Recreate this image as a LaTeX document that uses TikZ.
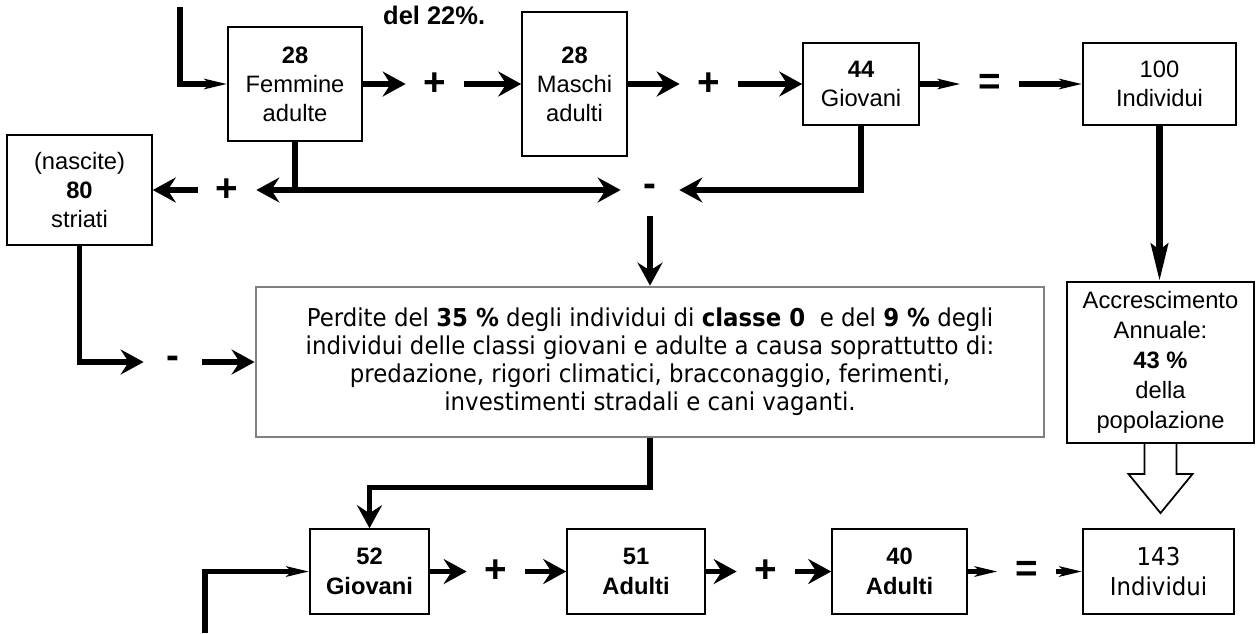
\documentclass[tikz,border=0pt]{standalone}
\usepackage{fontspec}
\setmainfont{Liberation Sans}
\newfontfamily\tahoma[FakeStretch=0.93]{DejaVu Sans}
\usetikzlibrary{arrows.meta}

\begin{document}
\begin{tikzpicture}[x=0.02cm,y=-0.02cm,
  box/.style 2 args={draw,line width=0.9pt,align=center,inner sep=0pt,
    minimum width=#1*\px,minimum height=#2*\px,
    font=\fontsize{13.5}{16.5}\selectfont},
  sym/.style={minimum width=58*\px,minimum height=52*\px,inner sep=0pt,
    font=\fontsize{22}{22}\selectfont\bfseries},
  link/.style={line width=3pt},
  fat/.style={link,-{Stealth[length=0.46cm,width=0.5cm,inset=0.16cm]}},
  slim/.style={link,-{Stealth[length=0.45cm,width=0.2cm,inset=0.1cm]}}]

%Define sizes
\def\px{0.02cm}          %one pixel of the reference.
\useasboundingbox (0,0) rectangle (1260,633);

% Current year
\node[box={134}{114}] (fem) at (295,84) {{\bfseries 28}\\Femmine\\adulte};
\node[box={105}{144}] (masc) at (574.5,84) {{\bfseries 28}\\Maschi\\adulti};
\node[box={116}{82}] (giov) at (861,84) {{\bfseries 44}\\Giovani};
\node[box={153}{82}] (tot) at (1159.5,84) {100\\Individui};
\node[anchor=west,font=\fontsize{14.5}{17}\selectfont\bfseries] (note) at (377,15) {del 22\%.};

\node[sym] (plus1) at (435,84) {+};
\node[sym] (plus2) at (709,84) {+};
\node[sym] (eq1) at (990,84) {=};

% Births and losses
\node[box={145}{110}] (nasc) at (79.5,190) {(nascite)\\{\bfseries 80}\\striati};
\node[sym] (plusB) at (227,190) {+};
\node[sym] (minusA) at (650,190) {-};
\node[sym] (minusB) at (173,362) {-};
\node[box={788}{150},draw=gray,line width=1.6pt,font=\tahoma\fontsize{14}{16}\selectfont] (perd) at (650,362)
  {Perdite del \textbf{35 \%} degli individui di \textbf{classe 0}\ \ e del \textbf{9 \%} degli\\
   individui delle classi giovani e adulte a causa soprattutto di:\\
   predazione, rigori climatici, bracconaggio, ferimenti,\\
   investimenti stradali e cani vaganti.};
\node[box={187}{161},line width=1.2pt,font=\fontsize{13.5}{17}\selectfont] (accr) at (1160.5,362.5)
  {Accrescimento\\Annuale:\\{\bfseries 43 \%}\\della\\popolazione};

% Next year
\node[box={119}{85},font=\fontsize{13.5}{17}\selectfont\bfseries] (g52) at (369.5,571.5) {52\\Giovani};
\node[box={138}{85},font=\fontsize{13.5}{17}\selectfont\bfseries] (ad51) at (636,571.5) {51\\Adulti};
\node[box={135}{85},font=\fontsize{13.5}{17}\selectfont\bfseries] (ad40) at (899.5,571.5) {40\\Adulti};
\node[box={151}{85},font=\tahoma\fontsize{14}{17}\selectfont] (tot143) at (1158.5,571.5) {143\\Individui};

\node[sym] (plus3) at (496,571.5) {+};
\node[sym] (plus4) at (766,571.5) {+};
\node[sym] (eq2) at (1027,571.5) {=};

% Connectors, top row
\coordinate (inTop) at (180,7);
\draw[slim] (inTop) |- (fem.west);
\draw[fat] (fem.east) -- (plus1.west);
\draw[fat] (plus1.east) -- (masc.west);
\draw[fat] (masc.east) -- (plus2.west);
\draw[fat] (plus2.east) -- (giov.west);
\draw[slim] (giov.east) -- (eq1.west);
\draw[slim] (eq1.east) -- (tot.west);

% Connectors, births and losses
\draw[fat] (fem.south) |- (plusB.east);
\draw[fat] (fem.south) |- (minusA.west);
\draw[fat] (plusB.west) -- (nasc.east);
\draw[fat] (giov.south) |- (minusA.east);
\draw[fat] (minusA.south) -- (perd.north);
\draw[fat] (nasc.south) |- (minusB.west);
\draw[fat] (minusB.east) -- (perd.west);
\draw[fat] (perd.south) -- ++(0,49) -| (g52.north);

% Connectors, bottom row
\coordinate (inBot) at (205,633);
\draw[slim] (inBot) |- (g52.west);
\draw[fat] (g52.east) -- (plus3.west);
\draw[fat] (plus3.east) -- (ad51.west);
\draw[fat] (ad51.east) -- (plus4.west);
\draw[fat] (plus4.east) -- (ad40.west);
\draw[slim] (ad40.east) -- (eq2.west);
\draw[slim] (eq2.east) -- (tot143.west);

% Growth
\draw[line width=3.8pt,-{Stealth[length=0.74cm,width=0.34cm,inset=0.12cm]}] (tot.south) -- (tot.south |- accr.north);
\draw[line width=1pt,fill=white] (accr.south) ++(-16,0) -- ++(0,30) -- ++(-16,0) -- ++(32,39) -- ++(32,-39) -- ++(-16,0) -- ++(0,-30);

\end{tikzpicture}
\end{document}
